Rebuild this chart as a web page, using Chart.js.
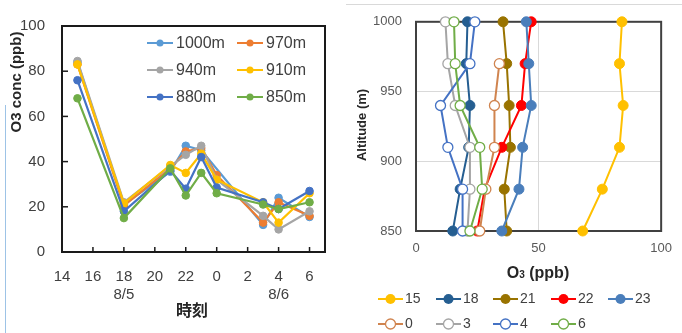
<!DOCTYPE html>
<html><head><meta charset="utf-8">
<script src="https://cdn.jsdelivr.net/npm/chart.js@4"></script>
<style>
html,body{margin:0;padding:0;background:#fff;}
#wrap{position:relative;width:682px;height:333px;overflow:hidden;background:#fff;}
#c1{position:absolute;left:0;top:0;}
#c2{position:absolute;left:340px;top:0;}
#vline{position:absolute;left:5px;top:105px;width:1px;height:228px;background:#9dc3e6;}
#hline{position:absolute;left:346px;top:4px;width:336px;height:1px;background:#d9d9d9;}
</style></head><body>
<div id="wrap">
<div id="vline"></div><div id="hline"></div>
<canvas id="c1" width="340" height="333"></canvas>
<canvas id="c2" width="342" height="333"></canvas>
</div>
<script>
// ---------------- data ----------------
const timeHours  = [15, 18, 21, 22, 23, 24, 27, 28, 30];
const timeLabels = ['15', '18', '21', '22', '23', '0', '3', '4', '6'];
const altitudes      = [1000, 970, 940, 910, 880, 850];
const altitudeLabels = ['1000m', '970m', '940m', '910m', '880m', '850m'];
const o3At1000m = [84, 21, 35.5, 47, 45, null, 12, 24, 15.5];
const o3At970m  = [83, 20.5, 37, 44.5, 46, 34, 13, 22, 16];
const o3At940m  = [84.5, 22, 38, 43, 47, 32, 16, 10, 18];
const o3At910m  = [83, 21.5, 38.5, 35, 43.5, 32, 22, 13, 26];
const o3At880m  = [76, 18, 36, 28, 42, 28.5, 22, 19, 27];
const o3At850m  = [68, 15, 37, 25, 35, 26, 21, 19, 22];
const xTickValues = [14, 16, 18, 20, 22, 24, 26, 28, 30];
const xTickLabels = ['14', '16', '18', '20', '22', '0', '2', '4', '6'];
const xDateLabels = {18: '8/5', 28: '8/6'};
const leftYTitle = 'O3 conc (ppb)';
const leftXTitle = '時刻';
const rightYTitle = 'Altitude (m)';

// ---------------- styles ----------------
const altColors  = ['#5B9BD5', '#ED7D31', '#A5A5A5', '#FFC000', '#4472C4', '#70AD47'];
const timeColors = ['#FFC000', '#255E91', '#997300', '#FF0000', '#4A7EBB', '#D0844F', '#A5A5A5', '#4472C4', '#70AD47'];
const timeFilled = [true, true, true, true, true, false, false, false, false];
const FONT = '"Liberation Sans", Arial, sans-serif';

const seriesByAlt = [o3At1000m, o3At970m, o3At940m, o3At910m, o3At880m, o3At850m];

function legendItem(ctx, x, y, len, color, filled, r, text, font, textColor, lw, gap) {
  ctx.save();
  ctx.strokeStyle = color; ctx.lineWidth = lw;
  ctx.beginPath(); ctx.moveTo(x, y); ctx.lineTo(x + len, y); ctx.stroke();
  ctx.beginPath(); ctx.arc(x + len / 2, y, r, 0, Math.PI * 2);
  ctx.fillStyle = filled ? color : '#ffffff'; ctx.fill();
  if (!filled) { ctx.lineWidth = 1.3; ctx.stroke(); }
  ctx.fillStyle = textColor; ctx.font = font; ctx.textAlign = 'left'; ctx.textBaseline = 'middle';
  ctx.fillText(text, x + len + gap, y + 0.5);
  ctx.restore();
}

const framePlugin = {
  id: 'frame',
  beforeDatasetsDraw(chart, args, opts) {
    const {ctx, chartArea: a} = chart;
    ctx.save();
    ctx.strokeStyle = opts.color; ctx.lineWidth = opts.width;
    ctx.strokeRect(a.left, a.top, a.right - a.left, a.bottom - a.top);
    if (opts.innerTicks) {
      ctx.lineWidth = 1.5;
      const xs = chart.scales.x, ys = chart.scales.y;
      xs.ticks.forEach(t => {
        const px = xs.getPixelForValue(t.value);
        if (px > a.left + 2 && px < a.right - 2) { ctx.beginPath(); ctx.moveTo(px, a.bottom); ctx.lineTo(px, a.bottom - 5); ctx.stroke(); }
      });
      ys.ticks.forEach(t => {
        const py = ys.getPixelForValue(t.value);
        if (py > a.top + 2 && py < a.bottom - 2) { ctx.beginPath(); ctx.moveTo(a.left, py); ctx.lineTo(a.left + 6, py); ctx.stroke(); }
      });
    }
    ctx.restore();
  }
};

// ---------------- left chart ----------------
const leftTextPlugin = {
  id: 'leftText',
  afterDraw(chart) {
    const ctx = chart.ctx;
    ctx.save();
    ctx.fillStyle = '#262626';
    ctx.font = 'bold 15px ' + FONT;
    ctx.textAlign = 'center'; ctx.textBaseline = 'middle';
    ctx.translate(16.5, 82); ctx.rotate(-Math.PI / 2);
    ctx.fillText(leftYTitle, 0, 0);
    ctx.restore();
    ctx.save();
    ctx.fillStyle = '#262626';
    ctx.font = 'bold 16px "Noto Sans CJK JP", sans-serif';
    ctx.textAlign = 'center'; ctx.textBaseline = 'middle';
    ctx.fillText(leftXTitle, 192, 310);
    ctx.restore();
    const cols = [147, 237], rows = [43, 70, 97];
    altitudeLabels.forEach((lab, i) => {
      legendItem(ctx, cols[i % 2], rows[Math.floor(i / 2)], 26, altColors[i], true, 3.5, lab,
        '16px ' + FONT, '#404040', 2, 3);
    });
  }
};

new Chart(document.getElementById('c1'), {
  type: 'line',
  data: {
    datasets: seriesByAlt.map((vals, i) => ({
      label: altitudeLabels[i],
      data: timeHours.map((t, j) => ({x: t, y: vals[j]})),
      borderColor: altColors[i], backgroundColor: altColors[i],
      pointBackgroundColor: altColors[i], pointBorderColor: altColors[i],
      pointRadius: 3.8, pointBorderWidth: 1, borderWidth: 2.2,
      order: 10 - i, spanGaps: true, clip: false, tension: 0
    }))
  },
  options: {
    responsive: false, animation: false, events: [],
    layout: {padding: {top: 20, right: 15, left: 0, bottom: 0}},
    plugins: {legend: {display: false}, tooltip: {enabled: false}, frame: {color: '#1a1a1a', width: 2, innerTicks: true}},
    scales: {
      x: {
        type: 'linear', min: 14, max: 31,
        afterBuildTicks: s => { s.ticks = xTickValues.map(v => ({value: v})); },
        afterFit: s => { s.height = 81; },
        grid: {display: false, drawTicks: false}, border: {display: false},
        ticks: {
          padding: 16, maxRotation: 0, autoSkip: false, color: '#404040',
          font: {size: 15, family: FONT, lineHeight: 1.2},
          callback: v => {
            const idx = xTickValues.indexOf(v);
            const lab = idx >= 0 ? xTickLabels[idx] : '';
            return xDateLabels[v] ? [lab, xDateLabels[v]] : lab;
          }
        }
      },
      y: {
        min: 0, max: 100,
        afterFit: s => { s.width = 62; },
        grid: {display: false, drawTicks: false}, border: {display: false},
        ticks: {stepSize: 20, padding: 17, color: '#404040', font: {size: 15, family: FONT}}
      }
    }
  },
  plugins: [framePlugin, leftTextPlugin]
});

// ---------------- right chart ----------------
const rightTextPlugin = {
  id: 'rightText',
  afterDraw(chart) {
    const ctx = chart.ctx;
    ctx.save();
    ctx.fillStyle = '#262626';
    ctx.font = 'bold 13px ' + FONT;
    ctx.textAlign = 'center'; ctx.textBaseline = 'middle';
    ctx.translate(22, 125); ctx.rotate(-Math.PI / 2);
    ctx.fillText(rightYTitle, 0, 0);
    ctx.restore();
    // x title: O3 (ppb) with small 3
    ctx.save();
    ctx.fillStyle = '#262626'; ctx.textBaseline = 'alphabetic'; ctx.textAlign = 'left';
    const big = 'bold 16px ' + FONT, small = 'bold 10px ' + FONT;
    ctx.font = big; const wO = ctx.measureText('O').width; const wRest = ctx.measureText(' (ppb)').width;
    ctx.font = small; const w3 = ctx.measureText('3').width;
    const total = wO + w3 + wRest;
    let x = 198 - total / 2; const y = 278;
    ctx.font = big; ctx.fillText('O', x, y); x += wO;
    ctx.font = small; ctx.fillText('3', x, y); x += w3;
    ctx.font = big; ctx.fillText(' (ppb)', x, y);
    ctx.restore();
    const cols = [38, 96, 153, 211, 268], rows = [299, 324];
    timeLabels.forEach((lab, j) => {
      const r = j < 5 ? 0 : 1, c = j < 5 ? j : j - 5;
      legendItem(ctx, cols[c], rows[r], 25, timeColors[j], timeFilled[j], 5, lab,
        '14px ' + FONT, '#404040', 2, 2);
    });
  }
};

new Chart(document.getElementById('c2'), {
  type: 'scatter',
  data: {
    datasets: timeLabels.map((lab, j) => ({
      label: lab,
      data: altitudes.map((alt, i) => ({x: seriesByAlt[i][j], y: alt})).filter(p => p.x !== null),
      showLine: true,
      borderColor: timeColors[j], backgroundColor: timeColors[j],
      pointBackgroundColor: timeFilled[j] ? timeColors[j] : '#ffffff',
      pointBorderColor: timeColors[j],
      pointBorderWidth: timeFilled[j] ? 1 : 1.3,
      pointRadius: 5, borderWidth: 2,
      order: 20 - j, clip: false
    }))
  },
  options: {
    responsive: false, animation: false, events: [],
    layout: {padding: {top: 19, right: 20, left: 0, bottom: 0}},
    plugins: {legend: {display: false}, tooltip: {enabled: false}, frame: {color: '#404040', width: 2, innerTicks: false}},
    scales: {
      x: {
        type: 'linear', min: 0, max: 100,
        afterFit: s => { s.height = 102; },
        grid: {color: '#d9d9d9', lineWidth: 1, drawTicks: false}, border: {display: false},
        ticks: {stepSize: 50, padding: 10, maxRotation: 0, color: '#595959', font: {size: 13, family: FONT},
                callback: v => String(v)}
      },
      y: {
        type: 'linear', min: 850, max: 1000,
        afterFit: s => { s.width = 76; },
        grid: {color: '#d9d9d9', lineWidth: 1, drawTicks: false}, border: {display: false},
        ticks: {stepSize: 50, padding: 14, color: '#595959', font: {size: 13, family: FONT},
                callback: v => String(v)}
      }
    }
  },
  plugins: [framePlugin, rightTextPlugin]
});
</script>
</body></html>
